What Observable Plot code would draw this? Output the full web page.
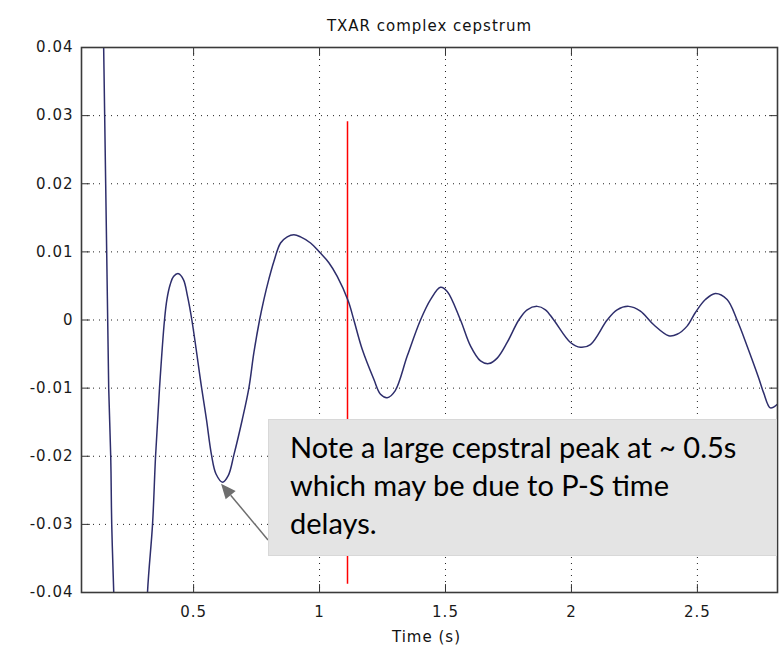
<!DOCTYPE html>
<html>
<head>
<meta charset="utf-8">
<script src="https://cdn.jsdelivr.net/npm/d3@7"></script>
<script src="https://cdn.jsdelivr.net/npm/@observablehq/plot@0.6"></script>
<style>
  body { margin: 0; background: #fff; }
  #wrap { position: relative; width: 782px; height: 656px; }
  #note {
    position: absolute; left: 268px; top: 419px; width: 509px; height: 137px;
    box-sizing: border-box; background: #e4e4e4; border: 1px solid #d8d8d8;
    font-family: Lato, "Open Sans", sans-serif; font-size: 29px; line-height: 38px;
    padding: 8px 0 0 21px; color: #000; white-space: pre;
  }
</style>
</head>
<body>
<div id="wrap"></div>
<script>
// ---- data ----
const title = "TXAR complex cepstrum";
const xLabel = "Time (s)";
const xTicks = [0.5, 1, 1.5, 2, 2.5];
const xTickLabels = ["0.5", "1", "1.5", "2", "2.5"];
const yTicks = [-0.04, -0.03, -0.02, -0.01, 0, 0.01, 0.02, 0.03, 0.04];
const yTickLabels = ["-0.04", "-0.03", "-0.02", "-0.01", "0", "0.01", "0.02", "0.03", "0.04"];
const time = [
  0.139, 0.143, 0.147, 0.155, 0.159, 0.163, 0.171, 0.175, 0.183, 0.20, 0.25, 0.30,
  0.317, 0.337, 0.349, 0.3647, 0.3845, 0.394, 0.4071, 0.4203, 0.4401, 0.46, 0.4758, 0.4931,
  0.532, 0.551, 0.571, 0.589, 0.615, 0.638, 0.66, 0.6933, 0.7194, 0.7393, 0.7619, 0.779,
  0.7988, 0.8187, 0.8452, 0.8718, 0.898, 0.9246, 0.9643, 1.0012, 1.037, 1.0702, 1.1139, 1.1362,
  1.1694, 1.2155, 1.242, 1.2686, 1.300, 1.348, 1.4008, 1.4405, 1.4802, 1.5067, 1.5595, 1.5992,
  1.6389, 1.6719, 1.7052, 1.7448, 1.7909, 1.8242, 1.8639, 1.8968, 1.9298, 1.996, 2.0357, 2.0754,
  2.1417, 2.1813, 2.2274, 2.2738, 2.3267, 2.3861, 2.4194, 2.4591, 2.4921, 2.5317, 2.5714, 2.6178,
  2.6575, 2.6972, 2.7433, 2.7631, 2.7897, 2.8161
];
const cepstrum = [
  0.050, 0.040, 0.030, 0.010, 0.000, -0.010, -0.020, -0.030, -0.040, -0.062, -0.080, -0.060,
  -0.040, -0.030, -0.020, -0.0100, 0.000, 0.0030, 0.0052, 0.0064, 0.0068, 0.0059, 0.0035, 0.000,
  -0.0100, -0.0146, -0.0198, -0.0226, -0.0238, -0.0228, -0.0198, -0.0146, -0.0100, -0.0048, 0.000, 0.0030,
  0.0060, 0.0086, 0.0113, 0.0122, 0.0125, 0.0122, 0.0113, 0.0099, 0.0084, 0.0064, 0.0028, 0.000,
  -0.0043, -0.0087, -0.0109, -0.0114, -0.0104, -0.0053, 0.000, 0.0030, 0.0048, 0.0042, 0.000, -0.0038,
  -0.0060, -0.0064, -0.0056, -0.0033, 0.000, 0.0015, 0.0020, 0.0015, 0.000, -0.0033, -0.0040, -0.0036,
  0.000, 0.0015, 0.0020, 0.0013, -0.0007, -0.0023, -0.0021, -0.0009, 0.0011, 0.0030, 0.0039, 0.0030,
  0.000, -0.0038, -0.0085, -0.0107, -0.0129, -0.0124
];
const marker = [{time: 1.111, top: 0.0291, bottom: -0.0388}];
const note = "Note a large cepstral peak at ~ 0.5s\nwhich may be due to P-S time\ndelays.";

// ---- drawing ----
const tickLine = {draw(ctx, l) { ctx.moveTo(0, 0); ctx.lineTo(0, -l); }};
const tickStyle = {length: 8, anchor: "start", shape: tickLine, stroke: "#333", strokeWidth: 1};

const chart = Plot.plot({
  width: 782,
  height: 656,
  marginLeft: 81,
  marginRight: 5,
  marginTop: 47,
  marginBottom: 64,
  style: {fontFamily: "DejaVu Sans", fontSize: "15px", letterSpacing: "1px", color: "#1a1a1a", background: "#fff"},
  x: {domain: [0.055, 2.818]},
  y: {domain: [-0.04, 0.04]},
  marks: [
    Plot.gridX(xTicks, {stroke: "#222", strokeOpacity: 1, strokeDasharray: "1,5"}),
    Plot.gridY(yTicks, {stroke: "#222", strokeOpacity: 1, strokeDasharray: "1,5"}),
    Plot.axisX(xTicks, {tickSize: 0, tickPadding: 14, tickFormat: (d, i) => xTickLabels[i], label: null}),
    Plot.axisY(yTicks, {tickSize: 0, tickPadding: 8, tickFormat: (d, i) => yTickLabels[i], label: null}),
    Plot.vectorX(xTicks, {frameAnchor: "bottom", rotate: 0, ...tickStyle}),
    Plot.vectorX(xTicks, {frameAnchor: "top", rotate: 180, ...tickStyle}),
    Plot.vectorY(yTicks, {frameAnchor: "left", rotate: 90, ...tickStyle}),
    Plot.vectorY(yTicks, {frameAnchor: "right", rotate: -90, ...tickStyle}),
    Plot.ruleX(marker, {x: "time", y1: "top", y2: "bottom", stroke: "#ff0000", strokeWidth: 1.5}),
    Plot.line(cepstrum, {x: time, y: cepstrum, stroke: "#2e2e6c", strokeWidth: 1.5, curve: "catmull-rom", clip: true}),
    Plot.frame({stroke: "#3a3a3a", strokeWidth: 1.6}),
    Plot.text([title], {frameAnchor: "top", lineAnchor: "middle", dy: -21, fontSize: 15, letterSpacing: "1.8px", fill: "#111"}),
    Plot.text([xLabel], {frameAnchor: "bottom", lineAnchor: "middle", dy: 45, dx: -3, fontSize: 15, fill: "#111"})
  ]
});
document.getElementById("wrap").appendChild(chart);

// arrow from the note to the cepstral trough
const xs = chart.scale("x"), ys = chart.scale("y");
let iMin = -1;
time.forEach((t, i) => { if (t > 0.5 && t < 0.8 && (iMin < 0 || cepstrum[i] < cepstrum[iMin])) iMin = i; });
const tx = xs.apply(time[iMin]) - 1, ty = ys.apply(cepstrum[iMin]) + 2;
const sx = 268, sy = 540;
const ang = Math.atan2(ty - sy, tx - sx);
const hl = 15, hw = 6.5;
const bx = tx - hl * Math.cos(ang), by = ty - hl * Math.sin(ang);
const g = d3.select(chart).append("g");
g.append("line").attr("x1", sx).attr("y1", sy).attr("x2", bx).attr("y2", by)
  .attr("stroke", "#6e6e6e").attr("stroke-width", 1.5);
g.append("path")
  .attr("d", `M${tx},${ty}L${bx - hw * Math.sin(ang)},${by + hw * Math.cos(ang)}L${bx + hw * Math.sin(ang)},${by - hw * Math.cos(ang)}Z`)
  .attr("fill", "#6e6e6e");

const div = document.createElement("div");
div.id = "note";
div.textContent = note;
document.getElementById("wrap").appendChild(div);
</script>
</body>
</html>
